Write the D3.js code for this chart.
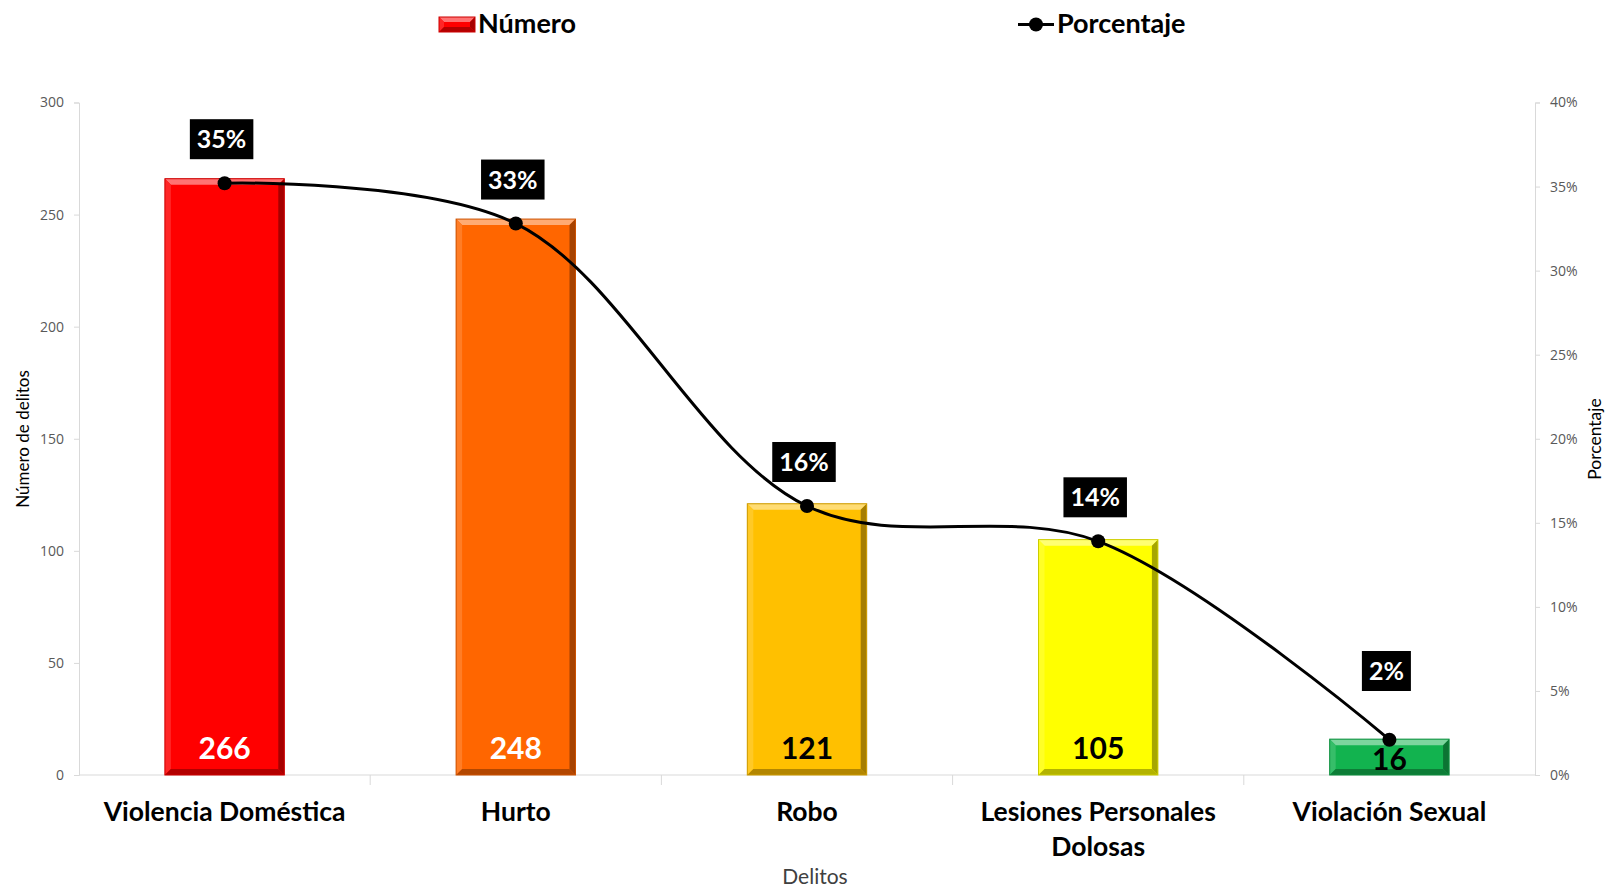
<!DOCTYPE html>
<html>
<head>
<meta charset="utf-8">
<script src="https://cdn.jsdelivr.net/npm/d3@7"></script>
<style>
  body { margin: 0; background: #fff; }
  svg { display: block; }
</style>
</head>
<body>
<script>
// data
var categories = ["Violencia Doméstica", "Hurto", "Robo", "Lesiones Personales Dolosas", "Violación Sexual"];
var counts = [266, 248, 121, 105, 16];
var shares = [0.352, 0.328, 0.160, 0.139, 0.021];
var shareLabels = ["35%", "33%", "16%", "14%", "2%"];
var barColors = ["#ff0000", "#ff6600", "#ffc000", "#ffff00", "#12b34f"];
var countTextColors = ["#ffffff", "#ffffff", "#000000", "#000000", "#000000"];
var leftTicks = [0, 50, 100, 150, 200, 250, 300];
var rightTicks = [0, 0.05, 0.10, 0.15, 0.20, 0.25, 0.30, 0.35, 0.40];

var W = 1608, H = 889;
var m = { left: 79, right: W - 1535, top: 102.5, bottom: H - 775 };

var svg = d3.select("body").append("svg").attr("width", W).attr("height", H);

var x = d3.scaleBand().domain(categories).range([m.left, W - m.right]).paddingInner(0.59).paddingOuter(0.295);
var band = d3.scaleBand().domain(categories).range([m.left, W - m.right]);
var y = d3.scaleLinear().domain([0, 300]).range([H - m.bottom, m.top]);
var y2 = d3.scaleLinear().domain([0, 0.4]).range([H - m.bottom, m.top]);

var axisColor = "#d9d9d9";
var tickFont = "'Open Sans', sans-serif";
var font = "Lato, sans-serif";

// left axis
var gl = svg.append("g").attr("transform", "translate(" + m.left + ",0)")
    .call(d3.axisLeft(y).tickValues(leftTicks).tickSize(5).tickPadding(10));
gl.select(".domain").attr("stroke", axisColor);
gl.selectAll(".tick line").attr("stroke", axisColor);
gl.selectAll(".tick text").attr("fill", "#595959").style("font-family", tickFont).style("font-size", "14px");

// right axis
var gr = svg.append("g").attr("transform", "translate(" + (W - m.right) + ",0)")
    .call(d3.axisRight(y2).tickValues(rightTicks).tickSize(5).tickPadding(10).tickFormat(d3.format(".0%")));
gr.select(".domain").attr("stroke", axisColor);
gr.selectAll(".tick line").attr("stroke", axisColor);
gr.selectAll(".tick text").attr("fill", "#595959").style("font-family", tickFont).style("font-size", "14px");

// bottom axis with category dividers
var yb = H - m.bottom;
svg.append("line").attr("x1", m.left).attr("x2", W - m.right).attr("y1", yb).attr("y2", yb).attr("stroke", axisColor);
svg.selectAll(".divider").data(categories.slice(1)).enter().append("line")
    .attr("x1", function (d) { return band(d); }).attr("x2", function (d) { return band(d); })
    .attr("y1", yb).attr("y2", yb + 10).attr("stroke", axisColor);

// category labels
svg.selectAll(".cat").data(categories).enter().append("text")
    .attr("text-anchor", "middle")
    .attr("x", function (d) { return band(d) + band.bandwidth() / 2; })
    .attr("y", yb + 46)
    .style("font-family", font).style("font-weight", "bold").style("font-size", "26.5px").attr("fill", "#000")
    .each(function (d) {
        var t = d3.select(this);
        var words = d === "Lesiones Personales Dolosas" ? ["Lesiones Personales", "Dolosas"] : [d];
        words.forEach(function (w, i) {
            t.append("tspan").attr("x", t.attr("x")).attr("dy", i ? 35 : 0).text(w);
        });
    });

// axis titles
svg.append("text").attr("x", 815).attr("y", 884).attr("text-anchor", "middle")
    .style("font-family", font).style("font-size", "21px").attr("fill", "#404040").text("Delitos");
svg.append("text").attr("transform", "translate(29,439) rotate(-90)").attr("text-anchor", "middle")
    .style("font-family", font).style("font-size", "17px").attr("fill", "#000").text("Número de delitos");
svg.append("text").attr("transform", "translate(1601,439) rotate(-90)").attr("text-anchor", "middle")
    .style("font-family", font).style("font-size", "17.5px").attr("fill", "#000").text("Porcentaje");

// bevelled bar
function bevel(g, x0, x1, y0, y1, color) {
    var b = Math.min(6, (y1 - y0) / 3);
    var light = d3.interpolateRgb(color, "#ffffff");
    var dark = d3.interpolateRgb(color, "#000000");
    g.append("rect").attr("x", x0).attr("y", y0).attr("width", x1 - x0).attr("height", y1 - y0).attr("fill", color);
    var poly = function (pts, fill) {
        g.append("polygon").attr("points", pts.map(function (p) { return p.join(","); }).join(" ")).attr("fill", fill);
    };
    poly([[x0, y0], [x1, y0], [x1 - b, y0 + b], [x0 + b, y0 + b]], light(0.45));
    poly([[x0, y0], [x0 + b, y0 + b], [x0 + b, y1 - b], [x0, y1]], light(0.15));
    poly([[x1, y0], [x1, y1], [x1 - b, y1 - b], [x1 - b, y0 + b]], dark(0.35));
    poly([[x0, y1], [x1, y1], [x1 - b, y1 - b], [x0 + b, y1 - b]], dark(0.3));
    g.append("rect").attr("x", x0).attr("y", y0).attr("width", x1 - x0).attr("height", y1 - y0)
        .attr("fill", "none").attr("stroke", dark(0.2)).attr("stroke-width", 1);
}

var bars = svg.append("g");
categories.forEach(function (c, i) {
    bevel(bars, x(c), x(c) + x.bandwidth(), y(counts[i]), y(0), barColors[i]);
});

// count labels (inside base; centred in bar when bar is short)
svg.selectAll(".count").data(counts).enter().append("text")
    .attr("text-anchor", "middle")
    .attr("x", function (d, i) { return band(categories[i]) + band.bandwidth() / 2; })
    .attr("y", function (d) {
        var h = yb - y(d);
        return h < 50 ? yb - h / 2 + 13 : yb - 16;
    })
    .style("font-family", font).style("font-weight", "bold").style("font-size", "30px")
    .attr("fill", function (d, i) { return countTextColors[i]; })
    .text(function (d) { return d; });

// percentage line
var cx = function (i) { return band(categories[i]) + band.bandwidth() / 2; };
var line = d3.line().x(function (d, i) { return cx(i); }).y(function (d) { return y2(d); }).curve(d3.curveCatmullRom.alpha(0.5));
svg.append("path").datum(shares).attr("d", line).attr("fill", "none").attr("stroke", "#000").attr("stroke-width", 3);
svg.selectAll(".pt").data(shares).enter().append("circle")
    .attr("cx", function (d, i) { return cx(i); }).attr("cy", function (d) { return y2(d); }).attr("r", 7).attr("fill", "#000");

// percentage label boxes
shares.forEach(function (s, i) {
    var cyl = Math.min(y2(s) - 44, yb - 104);
    var g = svg.append("g");
    var t = g.append("text").attr("x", cx(i) - 3).attr("y", cyl + 9).attr("text-anchor", "middle")
        .style("font-family", font).style("font-weight", "bold").style("font-size", "25px")
        .attr("fill", "#fff").text(shareLabels[i]);
    var bb = t.node().getBBox();
    g.insert("rect", "text").attr("x", bb.x - 7).attr("y", cyl - 20).attr("width", bb.width + 14).attr("height", 40).attr("fill", "#000");
});

// legend
var lg = svg.append("g");
bevel(lg, 439, 475, 17, 32, "#ff0000");
lg.append("text").attr("x", 478).attr("y", 33).style("font-family", font).style("font-weight", "bold")
    .style("font-size", "27px").text("Número");
lg.append("line").attr("x1", 1018).attr("x2", 1054).attr("y1", 24.5).attr("y2", 24.5).attr("stroke", "#000").attr("stroke-width", 3);
lg.append("circle").attr("cx", 1036).attr("cy", 24.5).attr("r", 7).attr("fill", "#000");
lg.append("text").attr("x", 1057).attr("y", 33).style("font-family", font).style("font-weight", "bold")
    .style("font-size", "27px").text("Porcentaje");
</script>
</body>
</html>
